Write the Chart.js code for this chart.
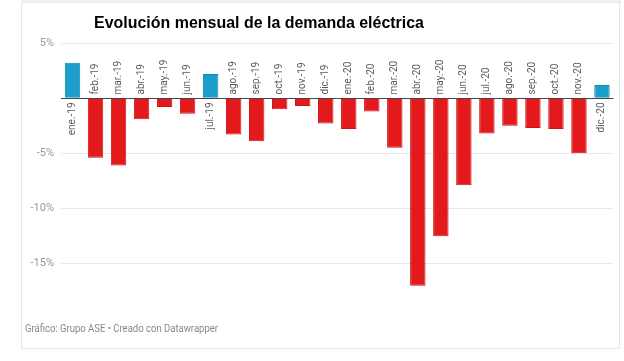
<!DOCTYPE html>
<html>
<head>
<meta charset="utf-8">
<script src="https://cdn.jsdelivr.net/npm/chart.js@4"></script>
<style>
  html, body { margin: 0; padding: 0; background: #fff; }
  #wrap { width: 624px; height: 361px; }
</style>
</head>
<body>
<div id="wrap"><canvas id="myChart" width="624" height="361"></canvas></div>
<script>
var months = ["ene.-19", "feb.-19", "mar.-19", "abr.-19", "may.-19", "jun.-19",
              "jul.-19", "ago.-19", "sep.-19", "oct.-19", "nov.-19", "dic.-19",
              "ene.-20", "feb.-20", "mar.-20", "abr.-20", "may.-20", "jun.-20",
              "jul.-20", "ago.-20", "sep.-20", "oct.-20", "nov.-20", "dic.-20"];
var demanda = [3.2, -5.4, -6.1, -1.9, -0.8, -1.4,
               2.2, -3.3, -3.9, -1.0, -0.7, -2.3,
               -2.8, -1.2, -4.5, -17.0, -12.5, -7.9,
               -3.2, -2.5, -2.7, -2.8, -5.0, 1.2];
var yTicks = [5, 0, -5, -10, -15];
var titleText = "Evolución mensual de la demanda eléctrica";
var footerText = "Gráfico: Grupo ASE • Creado con Datawrapper";

var barColors = [];
var borderColors = [];
for (var i in demanda) {
    barColors.push(demanda[i] >= 0 ? "#1a9fcd" : "#e3191c");
    borderColors.push(demanda[i] >= 0 ? "#1287b3" : "#c9161a");
}

// marco, titulo, pie, linea del cero y etiquetas de los meses
var extras = {
    id: 'extras',
    beforeDraw: function (chart) {
        var ctx = chart.ctx;
        ctx.save();
        ctx.fillStyle = '#fff';
        ctx.fillRect(0, 0, chart.width, chart.height);
        ctx.fillStyle = '#f0f0f0';
        ctx.fillRect(21, 0, 600, 3);
        ctx.strokeStyle = '#e6e6e6';
        ctx.lineWidth = 1;
        ctx.strokeRect(21.5, 2.5, 598, 346);

        ctx.fillStyle = '#000';
        ctx.font = 'bold 17px "Liberation Sans", Arial, sans-serif';
        ctx.textBaseline = 'alphabetic';
        ctx.fillText(titleText, 94, 28, 330);

        ctx.fillStyle = '#888';
        ctx.font = '10px Roboto, sans-serif';
        ctx.textBaseline = 'middle';
        ctx.fillText(footerText, 25, 329, 193);
        ctx.restore();
    },
    afterDatasetsDraw: function (chart) {
        var ctx = chart.ctx;
        var area = chart.chartArea;
        var y = chart.scales.y;
        var x = chart.scales.x;
        var zero = Math.round(y.getPixelForValue(0)) + 0.5;
        ctx.save();
        ctx.strokeStyle = '#444';
        ctx.lineWidth = 1;
        ctx.beginPath();
        ctx.moveTo(area.left, zero);
        ctx.lineTo(area.right, zero);
        ctx.stroke();

        ctx.fillStyle = '#5a5a5a';
        ctx.font = '10px Roboto, sans-serif';
        ctx.textBaseline = 'middle';
        for (var i = 0; i < months.length; i++) {
            var px = x.getPixelForValue(i);
            ctx.save();
            ctx.translate(px, zero);
            ctx.rotate(-Math.PI / 2);
            if (demanda[i] < 0) {
                ctx.textAlign = 'left';
                ctx.fillText(months[i], 4, 0);
            } else {
                ctx.textAlign = 'right';
                ctx.fillText(months[i], -4, 0);
            }
            ctx.restore();
        }
        ctx.restore();
    }
};

new Chart("myChart", {
    type: 'bar',
    data: {
        labels: months,
        datasets: [{
            data: demanda,
            backgroundColor: barColors,
            borderColor: borderColors,
            borderWidth: 1,
            barPercentage: 0.67,
            categoryPercentage: 1
        }]
    },
    options: {
        responsive: false,
        animation: false,
        layout: {
            padding: { left: 0, right: 10.5, top: 43, bottom: 73 }
        },
        plugins: {
            legend: { display: false },
            tooltip: { enabled: false }
        },
        scales: {
            x: {
                display: false
            },
            y: {
                min: -17.2,
                max: 5,
                afterBuildTicks: function (scale) {
                    scale.ticks = yTicks.map(function (v) { return { value: v }; });
                },
                afterFit: function (scale) {
                    scale.width = 61;
                },
                border: { display: false },
                grid: {
                    drawTicks: false,
                    color: function (c) {
                        return c.tick && c.tick.value === 0 ? 'rgba(0,0,0,0)' : '#e8e8e8';
                    }
                },
                ticks: {
                    padding: 7,
                    color: '#999',
                    font: { family: 'Roboto', size: 11 },
                    callback: function (v) {
                        return v === 0 ? '' : v + '%';
                    }
                }
            }
        }
    },
    plugins: [extras]
});
</script>
</body>
</html>
